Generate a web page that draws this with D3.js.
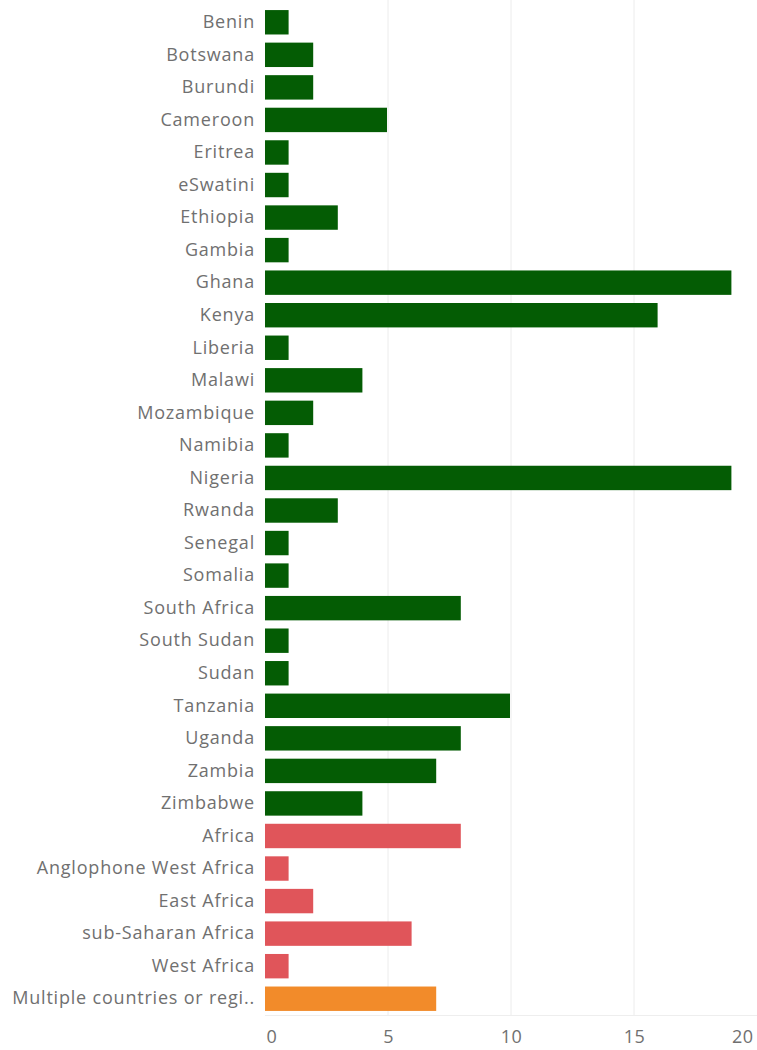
<!DOCTYPE html>
<html>
<head>
<meta charset="utf-8">
<script src="https://cdn.jsdelivr.net/npm/d3@7"></script>
<style>
  body { margin: 0; background: #fff; }
  svg { display: block; }
</style>
</head>
<body>
<div id="chart"></div>
<script>
// chart data
var countries = ["Benin", "Botswana", "Burundi", "Cameroon", "Eritrea", "eSwatini", "Ethiopia", "Gambia",
  "Ghana", "Kenya", "Liberia", "Malawi", "Mozambique", "Namibia", "Nigeria", "Rwanda", "Senegal",
  "Somalia", "South Africa", "South Sudan", "Sudan", "Tanzania", "Uganda", "Zambia", "Zimbabwe",
  "Africa", "Anglophone West Africa", "East Africa", "sub-Saharan Africa", "West Africa",
  "Multiple countries or regi.."];
var counts = [1, 2, 2, 5, 1, 1, 3, 1, 19, 16, 1, 4, 2, 1, 19, 3, 1, 1, 8, 1, 1, 10, 8, 7, 4,
  8, 1, 2, 6, 1, 7];
var groups = ["country", "country", "country", "country", "country", "country", "country", "country",
  "country", "country", "country", "country", "country", "country", "country", "country", "country",
  "country", "country", "country", "country", "country", "country", "country", "country",
  "region", "region", "region", "region", "region", "multiple"];
var xTicks = [0, 5, 10, 15, 20];

var colors = { country: "#045c04", region: "#e0555a", multiple: "#f28b2a" };

var rows = countries.map(function(c, i) {
  return { name: c, value: counts[i], group: groups[i] };
});

var svgWidth = 757, svgHeight = 1050;
var margin = { top: 6, right: 0, left: 265 };
var width = svgWidth - margin.left - margin.right;
var height = 1009;

var svg = d3.select("#chart").append("svg")
  .attr("width", svgWidth)
  .attr("height", svgHeight);

var chartGroup = svg.append("g")
  .attr("transform", `translate(${margin.left}, ${margin.top})`);

var x = d3.scaleLinear().domain([0, 20]).range([0, width]);
var y = d3.scaleBand().domain(countries).range([0, height]).paddingInner(0.25).paddingOuter(0.125);

// gridlines
chartGroup.selectAll(".grid")
  .data([5, 10, 15])
  .enter().append("line")
  .attr("x1", d => x(d)).attr("x2", d => x(d))
  .attr("y1", -margin.top).attr("y2", height)
  .attr("stroke", "#ececec").attr("stroke-width", 1);

// bottom line
chartGroup.append("line")
  .attr("x1", 0).attr("x2", width)
  .attr("y1", height + 0.5).attr("y2", height + 0.5)
  .attr("stroke", "#eeeeee");

// bars
chartGroup.selectAll("rect")
  .data(rows)
  .enter().append("rect")
  .attr("x", x(0))
  .attr("y", d => y(d.name))
  .attr("width", d => x(d.value) - x(0) - 1)
  .attr("height", y.bandwidth())
  .attr("fill", d => colors[d.group]);

// row labels
var leftAxis = d3.axisLeft(y).tickSize(0).tickPadding(10);
var yAxisG = chartGroup.append("g").call(leftAxis);
yAxisG.select(".domain").remove();
yAxisG.selectAll("text")
  .attr("fill", "#707070")
  .style("font-family", "'Open Sans', sans-serif")
  .style("font-size", "18px")
  .style("letter-spacing", "0.8px");

// x axis
var bottomAxis = d3.axisBottom(x).tickValues(xTicks).tickSize(0).tickPadding(15);
var xAxisG = chartGroup.append("g")
  .attr("transform", `translate(0, ${height})`)
  .call(bottomAxis);
xAxisG.select(".domain").remove();
xAxisG.selectAll("text")
  .attr("fill", "#707070")
  .style("font-family", "'Open Sans', sans-serif")
  .style("font-size", "18px")
  .style("letter-spacing", "0.4px")
  .attr("text-anchor", d => d === 0 ? "start" : (d === 20 ? "end" : "middle"))
  .attr("dx", d => d === 0 ? 1 : (d === 20 ? -4 : 0));
</script>
</body>
</html>
